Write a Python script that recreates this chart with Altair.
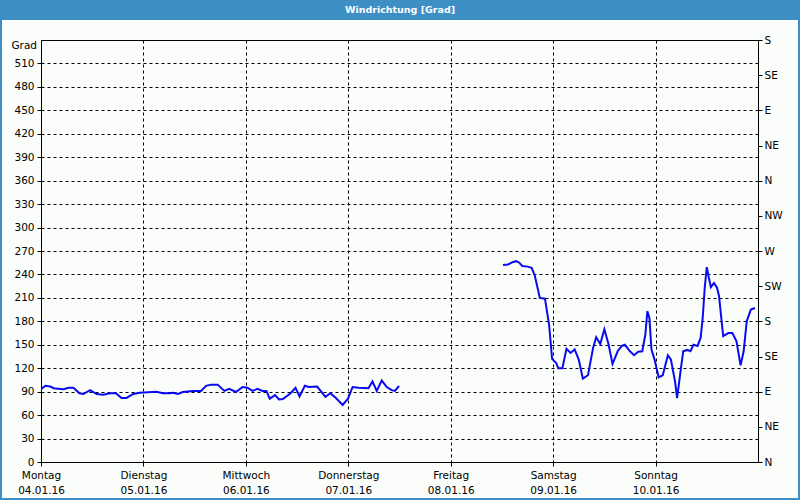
import altair as alt
import pandas as pd

# Day index (0 = Montag 04.01.16) and wind direction in degrees
seg1_day = [0.000, 0.042, 0.091, 0.123, 0.188, 0.220, 0.269, 0.317, 0.375, 0.414,
            0.479, 0.544, 0.608, 0.673, 0.731, 0.786, 0.835, 0.900, 0.964, 1.126,
            1.191, 1.256, 1.288, 1.337, 1.385, 1.482, 1.563, 1.612, 1.660, 1.725,
            1.790, 1.838, 1.903, 1.968, 2.016, 2.065, 2.113, 2.162, 2.201, 2.233,
            2.285, 2.324, 2.362, 2.437, 2.485, 2.524, 2.576, 2.615, 2.696, 2.777,
            2.825, 2.874, 2.945, 2.997, 3.042, 3.100, 3.197, 3.236, 3.278, 3.327,
            3.375, 3.424, 3.456, 3.495]
seg1_val = [93, 97.5, 96.6, 94.4, 93.5, 93, 95, 95, 88, 87,
            92, 87, 86, 88, 88, 82, 82, 87, 88.7, 90,
            88, 88, 88.7, 87, 89.6, 91, 91, 97.5, 99, 99,
            91, 93.5, 89.6, 96, 95, 91, 93.5, 91, 91, 81,
            85.6, 80, 80.5, 88, 95, 84, 97.5, 96, 96.6, 83.4,
            88, 82.5, 73, 81, 96, 95, 94.4, 103, 91, 104.5,
            96, 92, 91, 97.5]

seg2_day = [4.51, 4.56, 4.61, 4.64, 4.67, 4.70, 4.75, 4.79, 4.82, 4.87,
            4.92, 4.96, 4.99, 5.03, 5.05, 5.09, 5.13, 5.17, 5.21, 5.25,
            5.29, 5.34, 5.39, 5.42, 5.46, 5.50, 5.54, 5.58, 5.63, 5.67,
            5.70, 5.75, 5.79, 5.83, 5.87, 5.90, 5.92, 5.94, 5.96, 5.99,
            6.03, 6.07, 6.12, 6.15, 6.19, 6.21, 6.25, 6.27, 6.31, 6.34,
            6.37, 6.41, 6.44, 6.46, 6.48, 6.50, 6.52, 6.54, 6.57, 6.60,
            6.62, 6.66, 6.71, 6.75, 6.79, 6.83, 6.86, 6.89, 6.93, 6.97]
seg2_val = [252, 252.8, 256, 257, 255, 250.7, 250, 248.5, 239, 210,
            209, 176, 132, 126.7, 120, 120, 145, 139.6, 144, 131,
            106.7, 111, 146, 159.7, 151, 170, 151, 125.5, 141.7, 148.5,
            150, 141.7, 136.6, 141, 141.7, 163, 193, 184, 144, 131,
            108.4, 111, 136.6, 131, 103, 81.8, 122.5, 141.7, 143.4, 141.7,
            150, 148.5, 159, 184, 223, 249.4, 235.7, 223.8, 229, 223,
            212, 161, 165, 165, 154.5, 123.7, 141.7, 180, 195, 197]

day_names = ["Montag", "Dienstag", "Mittwoch", "Donnerstag", "Freitag", "Samstag", "Sonntag"]
day_dates = ["04.01.16", "05.01.16", "06.01.16", "07.01.16", "08.01.16", "09.01.16", "10.01.16"]
left_ticks = list(range(0, 511, 30))
right_ticks = list(range(0, 541, 45))
compass = ["N", "NE", "E", "SE", "S", "SW", "W", "NW", "N", "NE", "E", "SE", "S"]

df = pd.DataFrame({
    "day": seg1_day + seg2_day,
    "deg": seg1_val + seg2_val,
    "seg": ["a"] * len(seg1_day) + ["b"] * len(seg2_day),
})

FONT = "DejaVu Sans"
FS = 10.5
W, H = 717, 422
PL, PT = 41, 40

names_js = "[" + ",".join(f"'{n}'" for n in day_names) + "]"
dates_js = "[" + ",".join(f"'{d}'" for d in day_dates) + "]"
comp_js = "[" + ",".join(f"'{c}'" for c in compass) + "]"

x_scale = alt.Scale(domain=[0, 7], nice=False, zero=False)
y_scale = alt.Scale(domain=[0, 540], nice=False)

base = alt.Chart(df)

line = base.mark_line(color="#0a0af0", strokeWidth=2, clip=True).encode(
    x=alt.X("day:Q", scale=x_scale,
            axis=alt.Axis(values=list(range(7)), title=None,
                          labelExpr=f"[{names_js}[datum.value], {dates_js}[datum.value]]",
                          grid=True, gridDash=[3, 3], gridColor="#000000", gridOpacity=1,
                          gridWidth=1, domainColor="#000000", tickColor="#000000",
                          tickSize=4, labelFont=FONT, labelFontSize=FS,
                          labelColor="#000000", labelPadding=4, labelLineHeight=15,
                          labelFlush=False)),
    y=alt.Y("deg:Q", scale=y_scale,
            axis=alt.Axis(values=left_ticks, title=None, grid=True, gridDash=[3, 3],
                          gridColor="#000000", gridOpacity=1, gridWidth=1,
                          domainColor="#000000", tickColor="#000000", tickSize=4,
                          labelFont=FONT, labelFontSize=FS, labelColor="#000000",
                          labelPadding=3)),
    detail="seg:N",
)

right = base.mark_line(opacity=0).encode(
    y=alt.Y("deg:Q", scale=y_scale,
            axis=alt.Axis(orient="right", values=right_ticks, title=None, grid=False,
                          labelExpr=f"{comp_js}[round(datum.value/45)]",
                          domainColor="#000000", tickColor="#000000", tickSize=4,
                          labelFont=FONT, labelFontSize=FS, labelColor="#000000",
                          labelPadding=2)),
    x=alt.X("day:Q", scale=x_scale),
    detail="seg:N",
)

title_bar = alt.Chart(pd.DataFrame({"t": ["Windrichtung [Grad]"]})).mark_rect(
    color="#3d8fc6", clip=False
).encode(x=alt.value(-PL), x2=alt.value(800 - PL), y=alt.value(-PT), y2=alt.value(-PT + 20))

title_text = alt.Chart(pd.DataFrame({"t": ["Windrichtung [Grad]"]})).mark_text(
    color="#ffffff", font=FONT, fontSize=9.5, fontWeight="bold", align="center",
    baseline="middle", clip=False
).encode(x=alt.value(400 - PL), y=alt.value(-PT + 10), text="t:N")

grad_text = alt.Chart(pd.DataFrame({"t": ["Grad"]})).mark_text(
    color="#000000", font=FONT, fontSize=FS, align="right", baseline="middle", clip=False
).encode(x=alt.value(-4), y=alt.value(6), text="t:N")

frame = alt.Chart(pd.DataFrame({"t": [1]})).mark_rect(
    fill=None, stroke="#3d8fc6", strokeWidth=2, clip=False
).encode(x=alt.value(-PL + 1), x2=alt.value(800 - PL - 1), y=alt.value(-PT + 1),
         y2=alt.value(500 - PT - 1))

chart = alt.layer(title_bar, frame, line, right, title_text, grad_text).resolve_axis(
    y="independent"
).properties(
    width=W, height=H,
    autosize=alt.AutoSizeParams(type="none"),
    padding={"left": PL, "top": PT, "right": 800 - PL - W, "bottom": 500 - PT - H},
    background="#fafdfa",
).configure_view(stroke="#000000", strokeWidth=1)

chart.save("out.html", embed_options={"renderer": "svg", "actions": False})
